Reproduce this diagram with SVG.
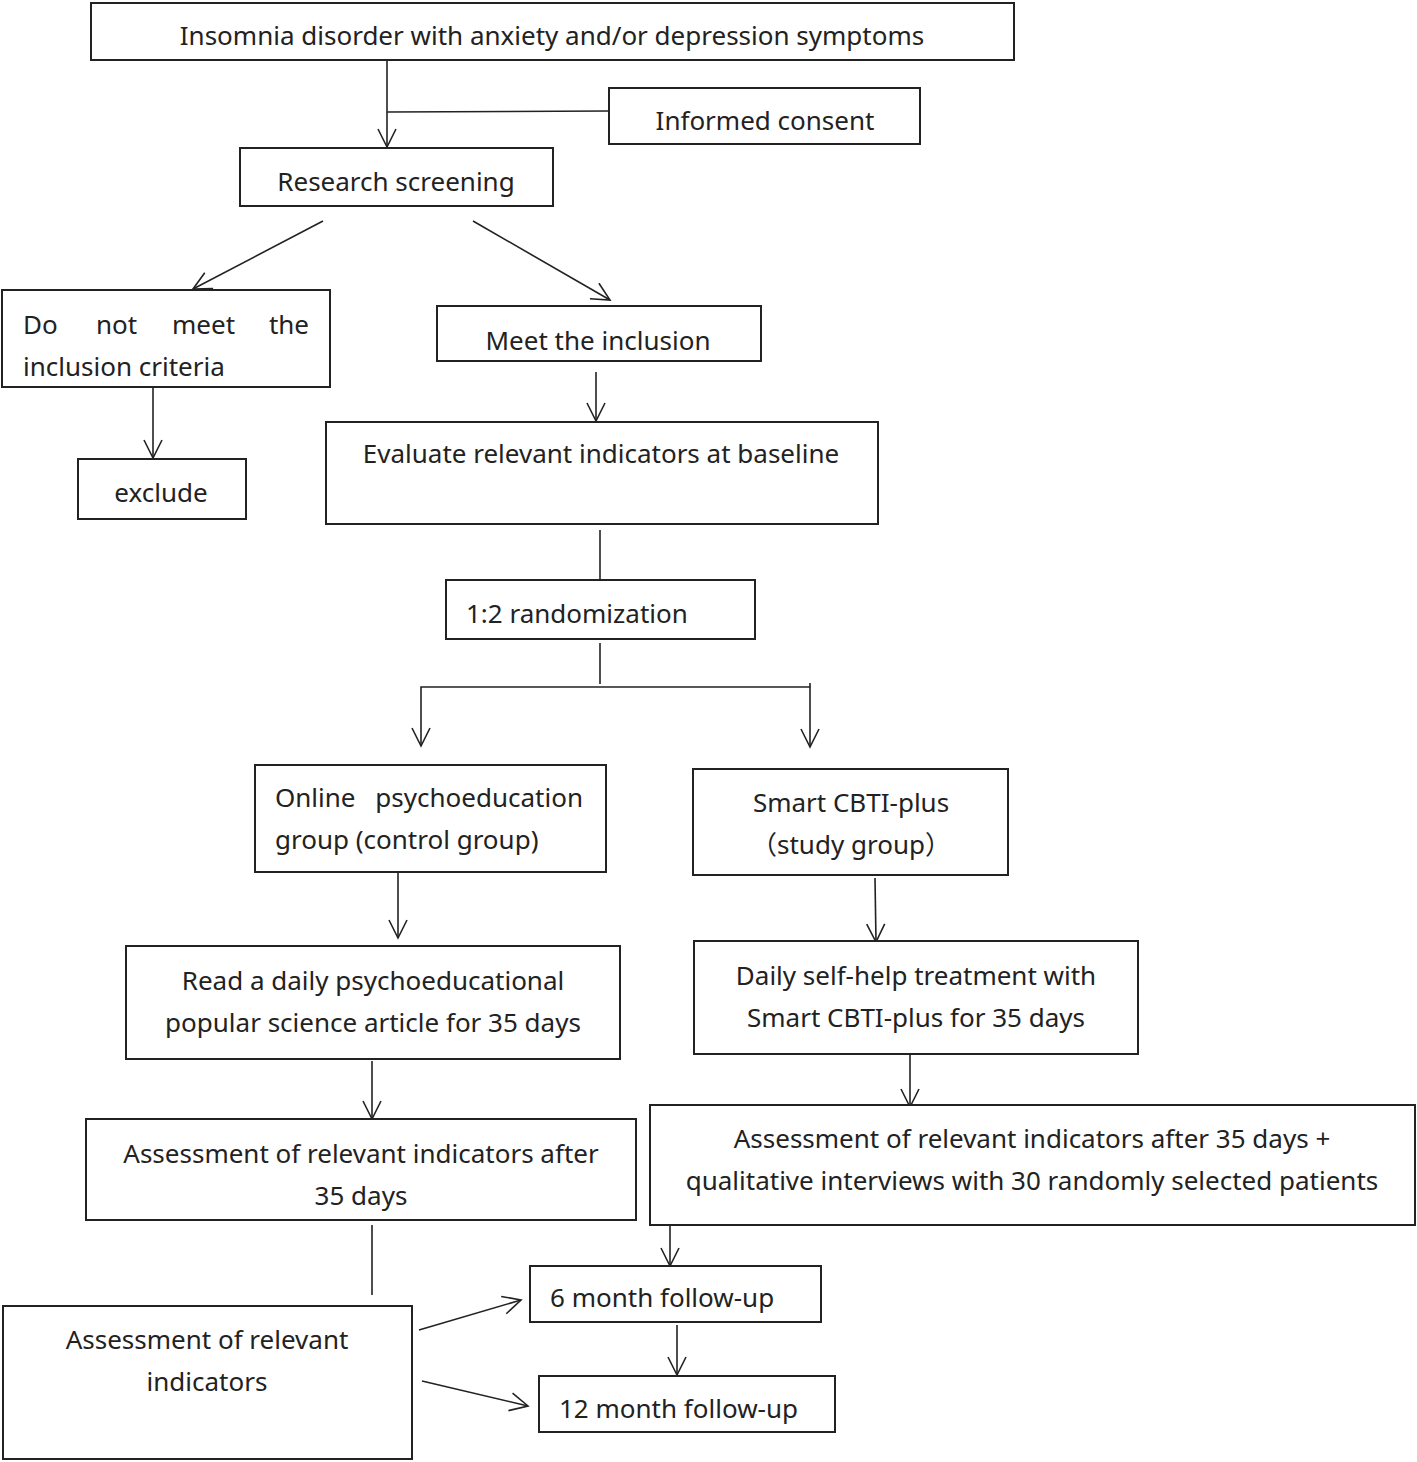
<svg xmlns="http://www.w3.org/2000/svg" width="1417" height="1462" viewBox="0 0 1417 1462">
<style>
.box{fill:#fff;stroke:#222;stroke-width:2}
text{font-family:"Noto Sans","Noto Sans CJK SC",sans-serif;font-size:26px;fill:#222}
.c{text-anchor:middle}
.e{text-anchor:end}
.ln{fill:none;stroke:#222;stroke-width:1.6}
.ar{marker-end:url(#arr)}
</style>
<defs>
<marker id="arr" markerUnits="userSpaceOnUse" markerWidth="24" markerHeight="24" viewBox="0 0 24 24" refX="20" refY="12" orient="auto">
<path d="M2,3 L20,12 L2,21" fill="none" stroke="#222" stroke-width="1.6"/>
</marker>
</defs>
<rect width="1417" height="1462" fill="#fff"/>
<g id="connectors">
<line class="ln ar" x1="387" y1="60" x2="387" y2="147"/>
<line class="ln" x1="387" y1="112" x2="609" y2="111"/>
<line class="ln ar" x1="323" y1="221" x2="193" y2="289"/>
<line class="ln ar" x1="473" y1="221" x2="610" y2="300"/>
<line class="ln ar" x1="153" y1="388" x2="153" y2="458"/>
<line class="ln ar" x1="596" y1="372" x2="596" y2="421"/>
<line class="ln" x1="600" y1="530" x2="600" y2="579"/>
<line class="ln" x1="600" y1="643" x2="600" y2="684"/>
<polyline class="ln ar" points="600,687 421,687 421,746"/>
<polyline class="ln ar" points="600,687 810,687 810,747"/>
<line class="ln" x1="810" y1="683" x2="810" y2="687"/>
<line class="ln ar" x1="398" y1="873" x2="398" y2="938"/>
<line class="ln ar" x1="875" y1="878" x2="876" y2="942"/>
<line class="ln ar" x1="372" y1="1061" x2="372" y2="1119"/>
<line class="ln ar" x1="910" y1="1055" x2="910" y2="1107"/>
<line class="ln ar" x1="670" y1="1226" x2="670" y2="1266"/>
<line class="ln" x1="372" y1="1225" x2="372" y2="1295"/>
<line class="ln ar" x1="677" y1="1325" x2="677" y2="1375"/>
<line class="ln ar" x1="419" y1="1330" x2="521" y2="1300"/>
<line class="ln ar" x1="422" y1="1381" x2="528" y2="1406"/>
</g>
<g id="n1"><rect class="box" x="91" y="3" width="923" height="57"/><text class="c" x="552" y="45">Insomnia disorder with anxiety and/or depression symptoms</text></g>
<g id="n2"><rect class="box" x="609" y="88" width="311" height="56"/><text class="c" x="765" y="130">Informed consent</text></g>
<g id="n3"><rect class="box" x="240" y="148" width="313" height="58"/><text class="c" x="396" y="191">Research screening</text></g>
<g id="n4"><rect class="box" x="2" y="290" width="328" height="97"/>
<text x="23" y="334">Do</text><text x="96" y="334">not</text><text x="172" y="334">meet</text><text class="e" x="309" y="334">the</text>
<text x="23" y="376">inclusion criteria</text></g>
<g id="n5"><rect class="box" x="437" y="306" width="324" height="55"/><text class="c" x="598" y="350">Meet the inclusion</text></g>
<g id="n6"><rect class="box" x="78" y="459" width="168" height="60"/><text class="c" x="161" y="502">exclude</text></g>
<g id="n7"><rect class="box" x="326" y="422" width="552" height="102"/><text class="c" x="601" y="463">Evaluate relevant indicators at baseline</text></g>
<g id="n8"><rect class="box" x="446" y="580" width="309" height="59"/><text x="466" y="623">1:2 randomization</text></g>
<g id="n9"><rect class="box" x="255" y="765" width="351" height="107"/>
<text x="275" y="807">Online</text><text class="e" x="583" y="807">psychoeducation</text>
<text x="275" y="849">group (control group)</text></g>
<g id="n10"><rect class="box" x="693" y="769" width="315" height="106"/>
<text class="c" x="851" y="812">Smart CBTI-plus</text><text class="c" x="851" y="854">（study group）</text></g>
<g id="n11"><rect class="box" x="126" y="946" width="494" height="113"/>
<text class="c" x="373" y="990">Read a daily psychoeducational</text><text class="c" x="373" y="1032">popular science article for 35 days</text></g>
<g id="n12"><rect class="box" x="694" y="941" width="444" height="113"/>
<text class="c" x="916" y="985">Daily self-help treatment with</text><text class="c" x="916" y="1027">Smart CBTI-plus for 35 days</text></g>
<g id="n13"><rect class="box" x="86" y="1119" width="550" height="101"/>
<text class="c" x="361" y="1163">Assessment of relevant indicators after</text><text class="c" x="361" y="1205">35 days</text></g>
<g id="n14"><rect class="box" x="650" y="1105" width="765" height="120"/>
<text class="c" x="1032" y="1148">Assessment of relevant indicators after 35 days +</text><text class="c" x="1032" y="1190">qualitative interviews with 30 randomly selected patients</text></g>
<g id="n15"><rect class="box" x="530" y="1266" width="291" height="56"/><text x="550" y="1307">6 month follow-up</text></g>
<g id="n16"><rect class="box" x="3" y="1306" width="409" height="153"/>
<text class="c" x="207" y="1349">Assessment of relevant</text><text class="c" x="207" y="1391">indicators</text></g>
<g id="n17"><rect class="box" x="539" y="1376" width="296" height="56"/><text x="559" y="1418">12 month follow-up</text></g>
</svg>
